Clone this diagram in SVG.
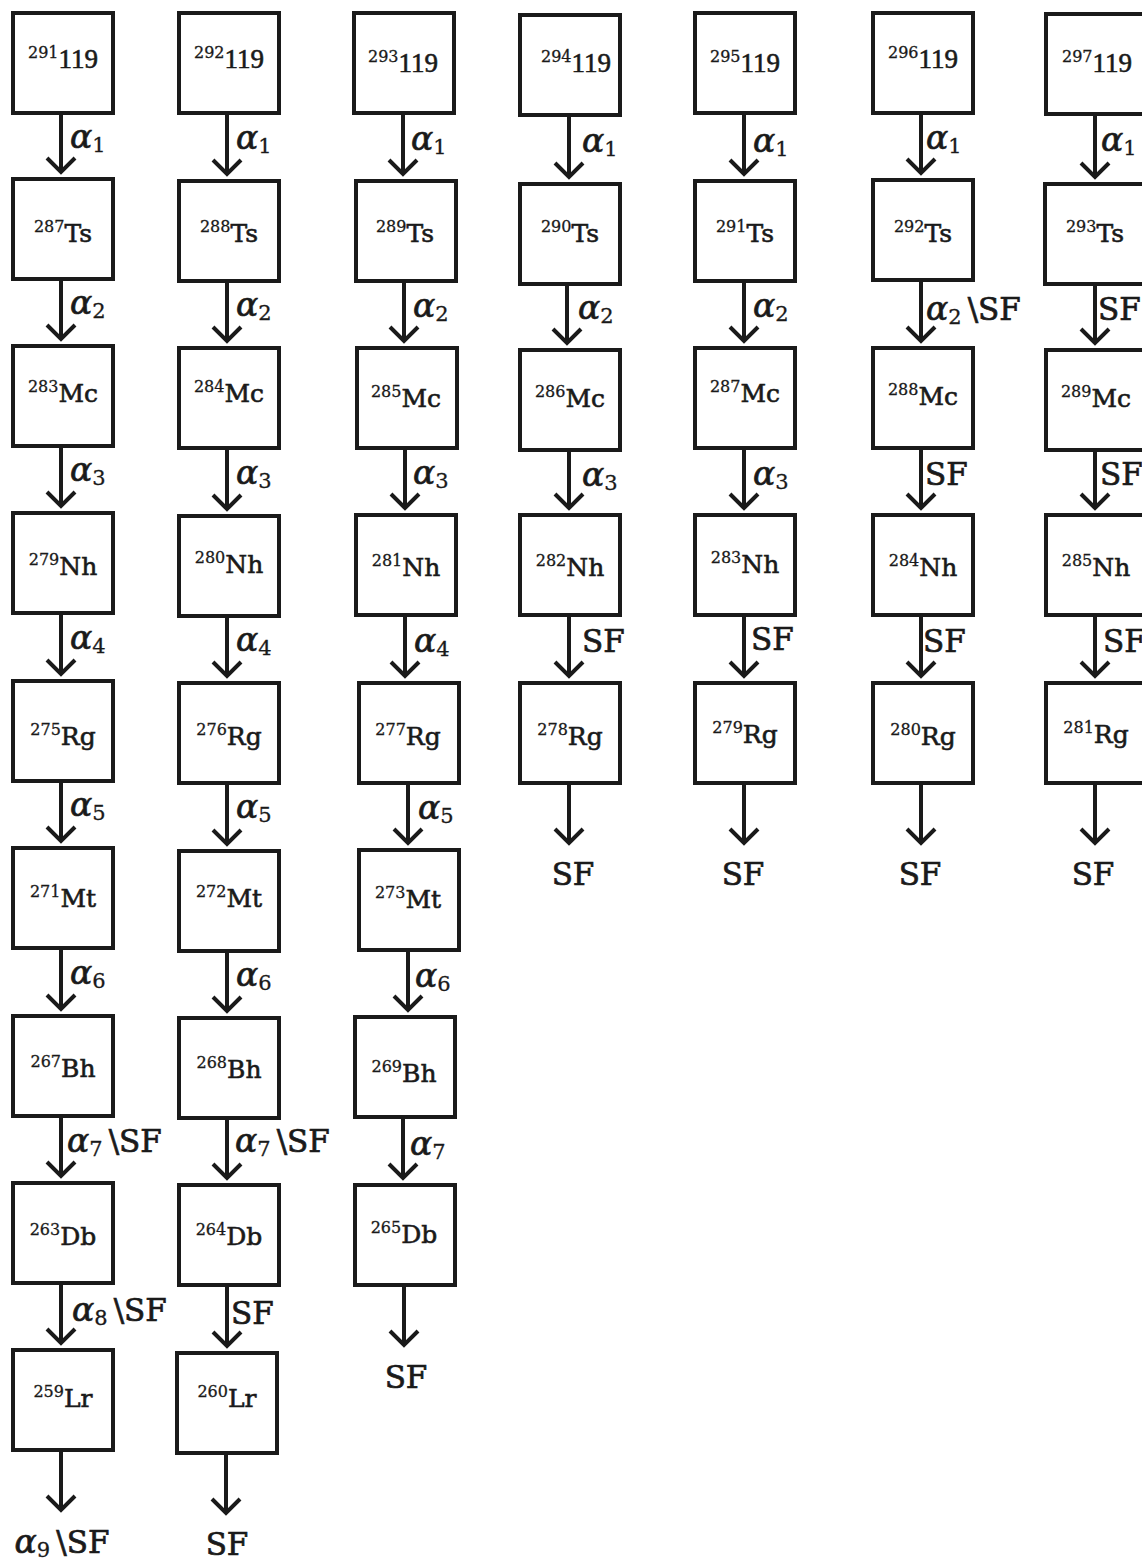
<svg xmlns="http://www.w3.org/2000/svg" width="1142" height="1560" viewBox="0 0 1142 1560">
<style>
.box{fill:#fff;stroke:#1a1a1a;stroke-width:4}
.el{font-family:"DejaVu Serif",serif;font-size:25px;fill:#1a1a1a;stroke:#1a1a1a;stroke-width:0.6;text-anchor:middle}
.sup{font-size:16px;stroke-width:0.3}
.num{font-family:"Liberation Serif",serif;font-size:27px}
.conn{fill:none;stroke:#1a1a1a;stroke-width:4;marker-end:url(#ah)}
.lbl{font-family:"DejaVu Serif",serif;font-size:31px;fill:#1a1a1a;stroke:#1a1a1a;stroke-width:0.7}
.a{font-style:italic;font-size:33px}
.sub{font-size:21px;font-style:normal;stroke-width:0.3}
.end{text-anchor:middle}
</style>
<defs>
<marker id="ah" markerUnits="userSpaceOnUse" markerWidth="32" markerHeight="32" viewBox="-16 -16 32 32" refX="0" refY="0" orient="auto" overflow="visible">
<path d="M-14,-14 L0,0 L-14,14" fill="none" stroke="#1a1a1a" stroke-width="4"/>
</marker>
</defs>
<rect width="1142" height="1560" fill="#fff"/>

<g id="connectors">
<!-- column 1 -->
<path class="conn" d="M61 113V172"/>
<path class="conn" d="M61 279V339"/>
<path class="conn" d="M61 446V506"/>
<path class="conn" d="M61 613V674"/>
<path class="conn" d="M61 781V841"/>
<path class="conn" d="M61 948V1009"/>
<path class="conn" d="M61 1116V1176"/>
<path class="conn" d="M61 1283V1343"/>
<path class="conn" d="M61 1450V1510"/>
<text class="lbl" x="70" y="148"><tspan class="a">α</tspan><tspan class="sub" dy="4">1</tspan></text>
<text class="lbl" x="70" y="314"><tspan class="a">α</tspan><tspan class="sub" dy="4">2</tspan></text>
<text class="lbl" x="70" y="481"><tspan class="a">α</tspan><tspan class="sub" dy="4">3</tspan></text>
<text class="lbl" x="70" y="649"><tspan class="a">α</tspan><tspan class="sub" dy="4">4</tspan></text>
<text class="lbl" x="70" y="816"><tspan class="a">α</tspan><tspan class="sub" dy="4">5</tspan></text>
<text class="lbl" x="70" y="984"><tspan class="a">α</tspan><tspan class="sub" dy="4">6</tspan></text>
<text class="lbl" x="67" y="1152"><tspan class="a">α</tspan><tspan class="sub" dy="4">7</tspan><tspan dy="-4" dx="6">\SF</tspan></text>
<text class="lbl" x="72" y="1321"><tspan class="a">α</tspan><tspan class="sub" dy="4">8</tspan><tspan dy="-4" dx="6">\SF</tspan></text>
<text class="lbl end" x="62" y="1553"><tspan class="a">α</tspan><tspan class="sub" dy="4">9</tspan><tspan dy="-4" dx="6">\SF</tspan></text>
<!-- column 2 -->
<path class="conn" d="M227 113V174"/>
<path class="conn" d="M227 281V341"/>
<path class="conn" d="M227 448V509"/>
<path class="conn" d="M227 616V676"/>
<path class="conn" d="M227 783V844"/>
<path class="conn" d="M227 951V1011"/>
<path class="conn" d="M227 1118V1178"/>
<path class="conn" d="M227 1285V1346"/>
<path class="conn" d="M226 1453V1513"/>
<text class="lbl" x="236" y="149"><tspan class="a">α</tspan><tspan class="sub" dy="4">1</tspan></text>
<text class="lbl" x="236" y="316"><tspan class="a">α</tspan><tspan class="sub" dy="4">2</tspan></text>
<text class="lbl" x="236" y="484"><tspan class="a">α</tspan><tspan class="sub" dy="4">3</tspan></text>
<text class="lbl" x="236" y="651"><tspan class="a">α</tspan><tspan class="sub" dy="4">4</tspan></text>
<text class="lbl" x="236" y="818"><tspan class="a">α</tspan><tspan class="sub" dy="4">5</tspan></text>
<text class="lbl" x="236" y="986"><tspan class="a">α</tspan><tspan class="sub" dy="4">6</tspan></text>
<text class="lbl" x="235" y="1152"><tspan class="a">α</tspan><tspan class="sub" dy="4">7</tspan><tspan dy="-4" dx="6">\SF</tspan></text>
<text class="lbl" x="231" y="1324">SF</text>
<text class="lbl end" x="227" y="1555">SF</text>
<!-- column 3 -->
<path class="conn" d="M403 113V174"/>
<path class="conn" d="M404 281V341"/>
<path class="conn" d="M405 448V508"/>
<path class="conn" d="M405 615V676"/>
<path class="conn" d="M408 783V843"/>
<path class="conn" d="M408 950V1010"/>
<path class="conn" d="M403 1117V1178"/>
<path class="conn" d="M404 1285V1345"/>
<text class="lbl" x="411" y="150"><tspan class="a">α</tspan><tspan class="sub" dy="4">1</tspan></text>
<text class="lbl" x="413" y="317"><tspan class="a">α</tspan><tspan class="sub" dy="4">2</tspan></text>
<text class="lbl" x="413" y="484"><tspan class="a">α</tspan><tspan class="sub" dy="4">3</tspan></text>
<text class="lbl" x="414" y="652"><tspan class="a">α</tspan><tspan class="sub" dy="4">4</tspan></text>
<text class="lbl" x="418" y="819"><tspan class="a">α</tspan><tspan class="sub" dy="4">5</tspan></text>
<text class="lbl" x="415" y="987"><tspan class="a">α</tspan><tspan class="sub" dy="4">6</tspan></text>
<text class="lbl" x="410" y="1155"><tspan class="a">α</tspan><tspan class="sub" dy="4">7</tspan></text>
<text class="lbl end" x="406" y="1388">SF</text>
<!-- column 4 -->
<path class="conn" d="M569 115V177"/>
<path class="conn" d="M567 284V343"/>
<path class="conn" d="M569 450V508"/>
<path class="conn" d="M569 615V676"/>
<path class="conn" d="M569 783V843"/>
<text class="lbl" x="582" y="152"><tspan class="a">α</tspan><tspan class="sub" dy="4">1</tspan></text>
<text class="lbl" x="578" y="319"><tspan class="a">α</tspan><tspan class="sub" dy="4">2</tspan></text>
<text class="lbl" x="582" y="486"><tspan class="a">α</tspan><tspan class="sub" dy="4">3</tspan></text>
<text class="lbl" x="582" y="652">SF</text>
<text class="lbl end" x="573" y="885">SF</text>
<!-- column 5 -->
<path class="conn" d="M744 113V174"/>
<path class="conn" d="M744 281V341"/>
<path class="conn" d="M744 448V508"/>
<path class="conn" d="M744 615V676"/>
<path class="conn" d="M744 783V843"/>
<text class="lbl" x="753" y="152"><tspan class="a">α</tspan><tspan class="sub" dy="4">1</tspan></text>
<text class="lbl" x="753" y="317"><tspan class="a">α</tspan><tspan class="sub" dy="4">2</tspan></text>
<text class="lbl" x="753" y="485"><tspan class="a">α</tspan><tspan class="sub" dy="4">3</tspan></text>
<text class="lbl" x="751" y="650">SF</text>
<text class="lbl end" x="743" y="885">SF</text>
<!-- column 6 -->
<path class="conn" d="M921 113V173"/>
<path class="conn" d="M921 280V341"/>
<path class="conn" d="M921 448V508"/>
<path class="conn" d="M921 615V676"/>
<path class="conn" d="M921 783V843"/>
<text class="lbl" x="926" y="149"><tspan class="a">α</tspan><tspan class="sub" dy="4">1</tspan></text>
<text class="lbl" x="926" y="320"><tspan class="a">α</tspan><tspan class="sub" dy="4">2</tspan><tspan dy="-4" dx="6">\SF</tspan></text>
<text class="lbl" x="925" y="485">SF</text>
<text class="lbl" x="923" y="652">SF</text>
<text class="lbl end" x="920" y="885">SF</text>
<!-- column 7 -->
<path class="conn" d="M1095 114V177"/>
<path class="conn" d="M1095 284V343"/>
<path class="conn" d="M1095 450V508"/>
<path class="conn" d="M1095 615V676"/>
<path class="conn" d="M1095 783V843"/>
<text class="lbl" x="1101" y="151"><tspan class="a">α</tspan><tspan class="sub" dy="4">1</tspan></text>
<text class="lbl" x="1098" y="320">SF</text>
<text class="lbl" x="1100" y="485">SF</text>
<text class="lbl" x="1103" y="652">SF</text>
<text class="lbl end" x="1093" y="885">SF</text>
</g>

<!-- column 1 nodes -->
<g id="n291-119"><rect class="box" x="13" y="13" width="100" height="100"/><text class="el" x="63" y="68"><tspan class="sup" dy="-10">291</tspan><tspan class="num" dy="10">119</tspan></text></g>
<g id="n287-Ts"><rect class="box" x="13" y="179" width="100" height="100"/><text class="el" x="63" y="242"><tspan class="sup" dy="-10">287</tspan><tspan dy="10">Ts</tspan></text></g>
<g id="n283-Mc"><rect class="box" x="13" y="346" width="100" height="100"/><text class="el" x="63" y="402"><tspan class="sup" dy="-10">283</tspan><tspan dy="10">Mc</tspan></text></g>
<g id="n279-Nh"><rect class="box" x="13" y="513" width="100" height="100"/><text class="el" x="63" y="575"><tspan class="sup" dy="-10">279</tspan><tspan dy="10">Nh</tspan></text></g>
<g id="n275-Rg"><rect class="box" x="13" y="681" width="100" height="100"/><text class="el" x="63" y="745"><tspan class="sup" dy="-10">275</tspan><tspan dy="10">Rg</tspan></text></g>
<g id="n271-Mt"><rect class="box" x="13" y="848" width="100" height="100"/><text class="el" x="63" y="907"><tspan class="sup" dy="-10">271</tspan><tspan dy="10">Mt</tspan></text></g>
<g id="n267-Bh"><rect class="box" x="13" y="1016" width="100" height="100"/><text class="el" x="63" y="1077"><tspan class="sup" dy="-10">267</tspan><tspan dy="10">Bh</tspan></text></g>
<g id="n263-Db"><rect class="box" x="13" y="1183" width="100" height="100"/><text class="el" x="63" y="1245"><tspan class="sup" dy="-10">263</tspan><tspan dy="10">Db</tspan></text></g>
<g id="n259-Lr"><rect class="box" x="13" y="1350" width="100" height="100"/><text class="el" x="63" y="1407"><tspan class="sup" dy="-10">259</tspan><tspan dy="10">Lr</tspan></text></g>

<!-- column 2 nodes -->
<g id="n292-119"><rect class="box" x="179" y="13" width="100" height="100"/><text class="el" x="229" y="68"><tspan class="sup" dy="-10">292</tspan><tspan class="num" dy="10">119</tspan></text></g>
<g id="n288-Ts"><rect class="box" x="179" y="181" width="100" height="100"/><text class="el" x="229" y="242"><tspan class="sup" dy="-10">288</tspan><tspan dy="10">Ts</tspan></text></g>
<g id="n284-Mc"><rect class="box" x="179" y="348" width="100" height="100"/><text class="el" x="229" y="402"><tspan class="sup" dy="-10">284</tspan><tspan dy="10">Mc</tspan></text></g>
<g id="n280-Nh"><rect class="box" x="179" y="516" width="100" height="100"/><text class="el" x="229" y="573"><tspan class="sup" dy="-10">280</tspan><tspan dy="10">Nh</tspan></text></g>
<g id="n276-Rg"><rect class="box" x="179" y="683" width="100" height="100"/><text class="el" x="229" y="745"><tspan class="sup" dy="-10">276</tspan><tspan dy="10">Rg</tspan></text></g>
<g id="n272-Mt"><rect class="box" x="179" y="851" width="100" height="100"/><text class="el" x="229" y="907"><tspan class="sup" dy="-10">272</tspan><tspan dy="10">Mt</tspan></text></g>
<g id="n268-Bh"><rect class="box" x="179" y="1018" width="100" height="100"/><text class="el" x="229" y="1078"><tspan class="sup" dy="-10">268</tspan><tspan dy="10">Bh</tspan></text></g>
<g id="n264-Db"><rect class="box" x="179" y="1185" width="100" height="100"/><text class="el" x="229" y="1245"><tspan class="sup" dy="-10">264</tspan><tspan dy="10">Db</tspan></text></g>
<g id="n260-Lr"><rect class="box" x="177" y="1353" width="100" height="100"/><text class="el" x="227" y="1407"><tspan class="sup" dy="-10">260</tspan><tspan dy="10">Lr</tspan></text></g>

<!-- column 3 nodes -->
<g id="n293-119"><rect class="box" x="354" y="13" width="100" height="100"/><text class="el" x="403" y="72"><tspan class="sup" dy="-10">293</tspan><tspan class="num" dy="10">119</tspan></text></g>
<g id="n289-Ts"><rect class="box" x="356" y="181" width="100" height="100"/><text class="el" x="405" y="242"><tspan class="sup" dy="-10">289</tspan><tspan dy="10">Ts</tspan></text></g>
<g id="n285-Mc"><rect class="box" x="357" y="348" width="100" height="100"/><text class="el" x="406" y="407"><tspan class="sup" dy="-10">285</tspan><tspan dy="10">Mc</tspan></text></g>
<g id="n281-Nh"><rect class="box" x="356" y="515" width="100" height="100"/><text class="el" x="406" y="576"><tspan class="sup" dy="-10">281</tspan><tspan dy="10">Nh</tspan></text></g>
<g id="n277-Rg"><rect class="box" x="359" y="683" width="100" height="100"/><text class="el" x="408" y="745"><tspan class="sup" dy="-10">277</tspan><tspan dy="10">Rg</tspan></text></g>
<g id="n273-Mt"><rect class="box" x="359" y="850" width="100" height="100"/><text class="el" x="408" y="908"><tspan class="sup" dy="-10">273</tspan><tspan dy="10">Mt</tspan></text></g>
<g id="n269-Bh"><rect class="box" x="355" y="1017" width="100" height="100"/><text class="el" x="404" y="1082"><tspan class="sup" dy="-10">269</tspan><tspan dy="10">Bh</tspan></text></g>
<g id="n265-Db"><rect class="box" x="355" y="1185" width="100" height="100"/><text class="el" x="404" y="1243"><tspan class="sup" dy="-10">265</tspan><tspan dy="10">Db</tspan></text></g>

<!-- column 4 nodes -->
<g id="n294-119"><rect class="box" x="520" y="15" width="100" height="100"/><text class="el" x="576" y="72"><tspan class="sup" dy="-10">294</tspan><tspan class="num" dy="10">119</tspan></text></g>
<g id="n290-Ts"><rect class="box" x="520" y="184" width="100" height="100"/><text class="el" x="570" y="242"><tspan class="sup" dy="-10">290</tspan><tspan dy="10">Ts</tspan></text></g>
<g id="n286-Mc"><rect class="box" x="520" y="350" width="100" height="100"/><text class="el" x="570" y="407"><tspan class="sup" dy="-10">286</tspan><tspan dy="10">Mc</tspan></text></g>
<g id="n282-Nh"><rect class="box" x="520" y="515" width="100" height="100"/><text class="el" x="570" y="576"><tspan class="sup" dy="-10">282</tspan><tspan dy="10">Nh</tspan></text></g>
<g id="n278-Rg"><rect class="box" x="520" y="683" width="100" height="100"/><text class="el" x="570" y="745"><tspan class="sup" dy="-10">278</tspan><tspan dy="10">Rg</tspan></text></g>

<!-- column 5 nodes -->
<g id="n295-119"><rect class="box" x="695" y="13" width="100" height="100"/><text class="el" x="745" y="72"><tspan class="sup" dy="-10">295</tspan><tspan class="num" dy="10">119</tspan></text></g>
<g id="n291-Ts"><rect class="box" x="695" y="181" width="100" height="100"/><text class="el" x="745" y="242"><tspan class="sup" dy="-10">291</tspan><tspan dy="10">Ts</tspan></text></g>
<g id="n287-Mc"><rect class="box" x="695" y="348" width="100" height="100"/><text class="el" x="745" y="402"><tspan class="sup" dy="-10">287</tspan><tspan dy="10">Mc</tspan></text></g>
<g id="n283-Nh"><rect class="box" x="695" y="515" width="100" height="100"/><text class="el" x="745" y="573"><tspan class="sup" dy="-10">283</tspan><tspan dy="10">Nh</tspan></text></g>
<g id="n279-Rg"><rect class="box" x="695" y="683" width="100" height="100"/><text class="el" x="745" y="743"><tspan class="sup" dy="-10">279</tspan><tspan dy="10">Rg</tspan></text></g>

<!-- column 6 nodes -->
<g id="n296-119"><rect class="box" x="873" y="13" width="100" height="100"/><text class="el" x="923" y="68"><tspan class="sup" dy="-10">296</tspan><tspan class="num" dy="10">119</tspan></text></g>
<g id="n292-Ts"><rect class="box" x="873" y="180" width="100" height="100"/><text class="el" x="923" y="242"><tspan class="sup" dy="-10">292</tspan><tspan dy="10">Ts</tspan></text></g>
<g id="n288-Mc"><rect class="box" x="873" y="348" width="100" height="100"/><text class="el" x="923" y="405"><tspan class="sup" dy="-10">288</tspan><tspan dy="10">Mc</tspan></text></g>
<g id="n284-Nh"><rect class="box" x="873" y="515" width="100" height="100"/><text class="el" x="923" y="576"><tspan class="sup" dy="-10">284</tspan><tspan dy="10">Nh</tspan></text></g>
<g id="n280-Rg"><rect class="box" x="873" y="683" width="100" height="100"/><text class="el" x="923" y="745"><tspan class="sup" dy="-10">280</tspan><tspan dy="10">Rg</tspan></text></g>

<!-- column 7 nodes -->
<g id="n297-119"><rect class="box" x="1046" y="14" width="100" height="100"/><text class="el" x="1097" y="72"><tspan class="sup" dy="-10">297</tspan><tspan class="num" dy="10">119</tspan></text></g>
<g id="n293-Ts"><rect class="box" x="1045" y="184" width="100" height="100"/><text class="el" x="1095" y="242"><tspan class="sup" dy="-10">293</tspan><tspan dy="10">Ts</tspan></text></g>
<g id="n289-Mc"><rect class="box" x="1046" y="350" width="100" height="100"/><text class="el" x="1096" y="407"><tspan class="sup" dy="-10">289</tspan><tspan dy="10">Mc</tspan></text></g>
<g id="n285-Nh"><rect class="box" x="1046" y="515" width="100" height="100"/><text class="el" x="1096" y="576"><tspan class="sup" dy="-10">285</tspan><tspan dy="10">Nh</tspan></text></g>
<g id="n281-Rg"><rect class="box" x="1046" y="683" width="100" height="100"/><text class="el" x="1096" y="743"><tspan class="sup" dy="-10">281</tspan><tspan dy="10">Rg</tspan></text></g>
</svg>
